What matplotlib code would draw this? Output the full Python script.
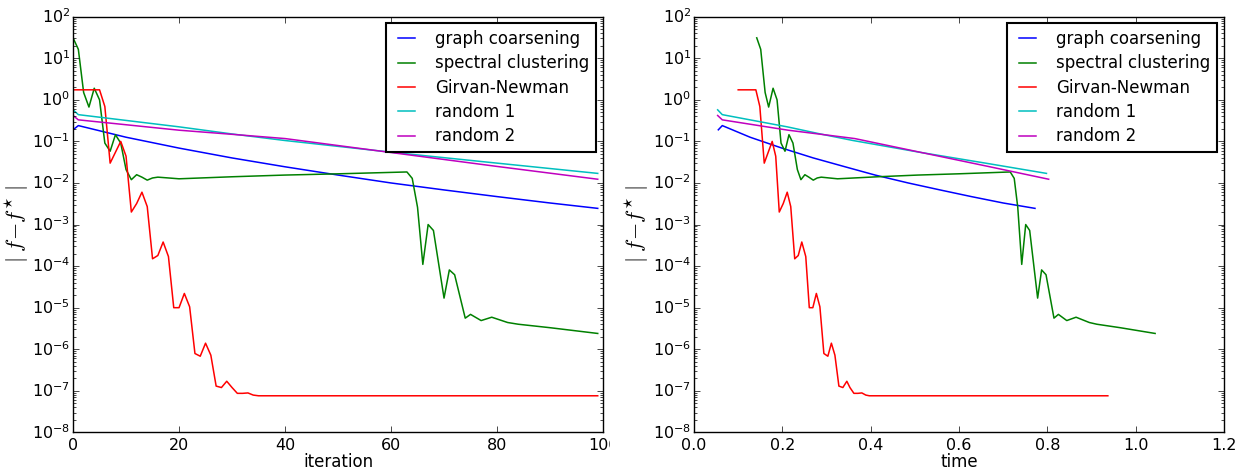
import matplotlib
matplotlib.use('Agg')
import matplotlib.pyplot as plt
from matplotlib.ticker import FixedLocator
from matplotlib.transforms import Bbox, TransformedBbox

plt.style.use('classic')

labels = ["graph coarsening", "spectral clustering", "Girvan-Newman", "random 1", "random 2"]
colors = ['b', 'g', 'r', 'c', 'm']
y_decades = [1e-8, 1e-7, 1e-6, 1e-5, 1e-4, 1e-3, 1e-2, 1e-1, 1e0, 1e1, 1e2]
iter_ticks = [0, 20, 40, 60, 80, 100]
time_ticks = [0.0, 0.2, 0.4, 0.6, 0.8, 1.0, 1.2]

# graph coarsening
gc_iter = [0, 1, 10, 20, 30, 40, 50, 60, 70, 80, 90, 99]
gc_time = [0.055, 0.064, 0.127, 0.199, 0.270, 0.342, 0.410, 0.485, 0.557, 0.628, 0.700, 0.772]
gc_err = [0.19, 0.24, 0.126, 0.069, 0.040, 0.0245, 0.0155, 0.010, 0.0068, 0.0047, 0.0033, 0.00245]

# spectral clustering
sc_iter = [0, 1, 2, 3, 4, 5, 6, 7, 8, 9, 10, 11, 12, 13, 14, 15, 16, 18, 20, 30, 40, 50,
           63, 64, 65, 66, 67, 68, 70, 71, 72, 74, 75, 77, 79, 82, 84, 90, 99]
sc_time = [0.142, 0.151, 0.161, 0.169, 0.179, 0.188, 0.197, 0.206, 0.215, 0.224, 0.234, 0.242,
           0.251, 0.260, 0.270, 0.279, 0.288, 0.306, 0.325, 0.416, 0.507, 0.598,
           0.716, 0.725, 0.733, 0.742, 0.751, 0.760, 0.778, 0.787, 0.797, 0.815, 0.825, 0.844,
           0.865, 0.895, 0.912, 0.965, 1.044]
sc_err = [31, 16.4, 1.5, 0.67, 1.9, 1.0, 0.091, 0.058, 0.145, 0.091, 0.021, 0.012,
          0.0158, 0.0138, 0.0117, 0.0132, 0.0138, 0.0132, 0.0126, 0.0141, 0.0155, 0.0166,
          0.0184, 0.0129, 0.0026, 1.1e-4, 1.0e-3, 7.2e-4, 1.7e-5, 8.1e-5, 6.2e-5, 5.6e-6, 6.9e-6,
          4.9e-6, 5.9e-6, 4.4e-6, 4.0e-6, 3.3e-6, 2.4e-6]

# Girvan-Newman
gn_iter = [0, 5, 6, 7, 9, 10, 11, 12, 13, 14, 15, 16, 17, 18, 19, 20, 21, 22, 23, 24, 25,
           26, 27, 28, 29, 30, 31, 32, 33, 34, 35, 99]
gn_time = [0.100, 0.140, 0.149, 0.159, 0.177, 0.185, 0.193, 0.202, 0.211, 0.219, 0.228, 0.236,
           0.244, 0.253, 0.261, 0.269, 0.277, 0.285, 0.294, 0.303, 0.311, 0.319, 0.328, 0.337,
           0.346, 0.353, 0.362, 0.371, 0.380, 0.389, 0.397, 0.937]
gn_err = [1.74, 1.74, 0.69, 0.030, 0.10, 0.044, 0.0020, 0.0032, 0.0060, 0.0027, 1.5e-4, 1.8e-4,
          3.8e-4, 1.7e-4, 1.0e-5, 1.0e-5, 2.2e-5, 1.05e-5, 7.9e-7, 6.8e-7, 1.4e-6, 7.2e-7,
          1.3e-7, 1.2e-7, 1.7e-7, 1.2e-7, 8.7e-8, 8.7e-8, 8.9e-8, 7.9e-8, 7.6e-8, 7.6e-8]

# random 1
r1_iter = [0, 1, 20, 30, 40, 60, 80, 99]
r1_time = [0.0535, 0.064, 0.211, 0.286, 0.360, 0.510, 0.660, 0.798]
r1_err = [0.575, 0.44, 0.224, 0.151, 0.105, 0.055, 0.030, 0.017]

# random 2
r2_iter = [0, 1, 20, 30, 40, 60, 80, 99]
r2_time = [0.0535, 0.064, 0.213, 0.288, 0.364, 0.515, 0.666, 0.803]
r2_err = [0.42, 0.33, 0.186, 0.148, 0.117, 0.054, 0.025, 0.0123]

series_iter = [gc_iter, sc_iter, gn_iter, r1_iter, r2_iter]
series_time = [gc_time, sc_time, gn_time, r1_time, r2_time]
series_err = [gc_err, sc_err, gn_err, r1_err, r2_err]

fig = plt.figure(figsize=(12.38, 4.70), dpi=100, facecolor='white')
ax1 = fig.add_axes([0.0590, 0.0800, 0.4281, 0.8845])
ax2 = fig.add_axes([0.5606, 0.0800, 0.4281, 0.8845])

for ax, xs, xlabel in [(ax1, series_iter, 'iteration'), (ax2, series_time, 'time')]:
    for x, y, lab, col in zip(xs, series_err, labels, colors):
        ax.semilogy(x, y, color=col, lw=1.1, label=lab)
    ax.set_ylim(1e-8, 1e2)
    ax.yaxis.set_major_locator(FixedLocator(y_decades))
    ax.set_xlabel(xlabel, fontsize=12, labelpad=0)
    ax.set_ylabel(r'$|\;f\!-\!f^{\star}\;|$', fontsize=16, labelpad=1)
    ax.tick_params(labelsize=11.5)
    ax.tick_params(axis='y', which='major', pad=2)
    leg = ax.legend(loc='upper right', fontsize=12, borderaxespad=0.4, borderpad=0.4,
                    handlelength=1.6, handletextpad=0.95, labelspacing=0.38)
    leg.get_frame().set_linewidth(1.5)

ax1.set_xlim(0, 100)
ax1.set_xticks(iter_ticks)
ax2.set_xlim(0, 1.2)
ax2.set_xticks(time_ticks)

# the left panel was cropped just past its last tick label
clip = TransformedBbox(Bbox([[0, 0], [610 / 1238, 1]]), fig.transFigure)
last = ax1.xaxis.get_major_ticks()[-1].label1
last.set_clip_on(True)
last.set_clip_box(clip)

fig.savefig('out.png', dpi=100, facecolor='white')
